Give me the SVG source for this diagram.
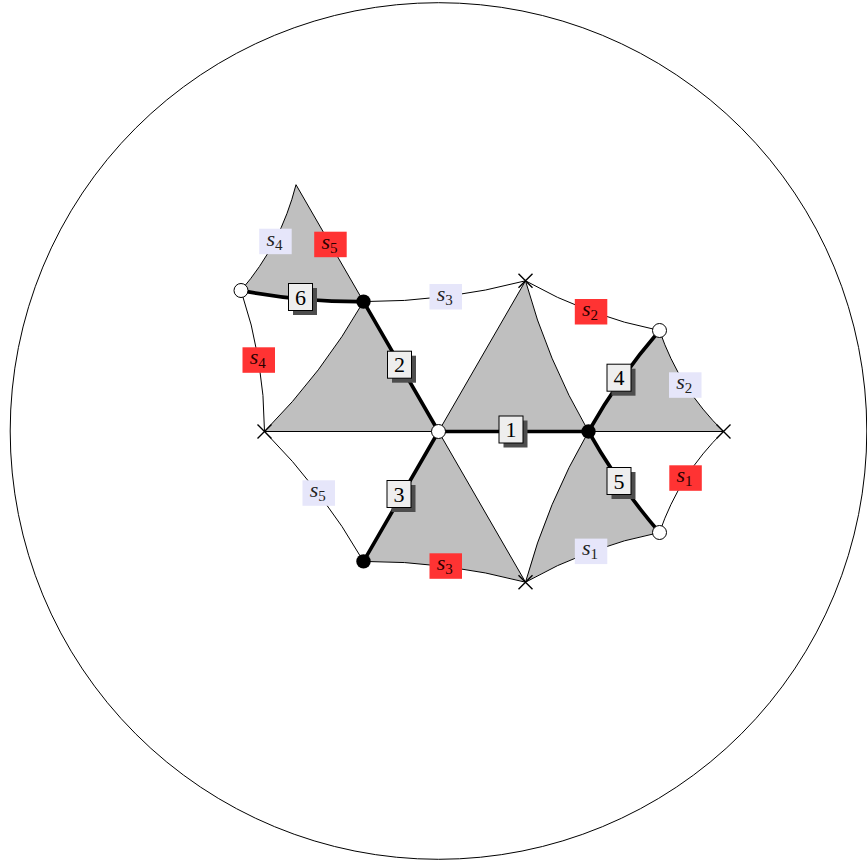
<svg xmlns="http://www.w3.org/2000/svg" width="867" height="864" viewBox="0 0 867 864">
<style>
.face{fill:#bfbfbf;stroke:#000;stroke-width:1}
.thin{fill:none;stroke:#000;stroke-width:1}
.thick{fill:none;stroke:#000;stroke-width:3.6;stroke-linecap:round}
.cross{stroke:#000;stroke-width:1.4;fill:none}
.bn{fill:#000}
.wn{fill:#fff;stroke:#000;stroke-width:1}
.shadow{fill:#4d4d4d}
.box{fill:#eeeeee;stroke:#000;stroke-width:1}
.num{font-family:"Liberation Serif",serif;font-size:22px;text-anchor:middle;fill:#000}
.lav{fill:#e6e6fa}
.red{fill:#ff3333}
.sl{font-family:"Liberation Serif",serif;font-size:22px;font-style:italic;text-anchor:middle}
.sub{font-size:15px;font-style:normal}
</style>
<circle cx="438.5" cy="431" r="428.3" class="thin"/>
<g id="faces">
<path class="face" d="M438.5,431.5 L525.5,280.8 A625,625 0 0 0 588.5,431.5 Z"/>
<path class="face" d="M264.5,431.5 A623,623 0 0 0 363.5,301.6 L438.5,431.5 Z"/>
<path class="face" d="M588.5,431.5 A618,618 0 0 1 659.5,330.5 A258,258 0 0 0 723.5,431.5 Z"/>
<path class="face" d="M588.5,431.5 A618,618 0 0 0 659.5,532.5 A443,443 0 0 0 525.5,582.2 A625,625 0 0 1 588.5,431.5 Z"/>
<path class="face" d="M438.5,431.5 L363.5,561.4 A622,622 0 0 1 525.5,582.2 Z"/>
<path class="face" d="M241,290.5 A259,259 0 0 0 296,184.7 L363.5,301.6 A621,621 0 0 1 241,290.5 Z"/>
</g>
<g id="connectors">
<path class="thin" d="M363.5,301.6 A622,622 0 0 0 525.5,280.8"/>
<path class="thin" d="M525.5,280.8 A443,443 0 0 0 659.5,330.5"/>
<path class="thin" d="M659.5,532.5 A258,258 0 0 1 723.5,431.5"/>
<path class="thin" d="M264.5,431.5 A623,623 0 0 1 363.5,561.4"/>
<path class="thin" d="M241,290.5 A442,442 0 0 1 264.5,431.5"/>
<path class="thin" d="M264.5,431.5 H723.5"/>
<path class="thick" d="M438.5,431.5 H588.5"/>
<path class="thick" d="M438.5,431.5 L363.5,301.6"/>
<path class="thick" d="M438.5,431.5 L363.5,561.4"/>
<path class="thick" d="M588.5,431.5 A618,618 0 0 1 659.5,330.5"/>
<path class="thick" d="M588.5,431.5 A618,618 0 0 0 659.5,532.5"/>
<path class="thick" d="M241,290.5 A621,621 0 0 0 363.5,301.6"/>
</g>
<g id="edge-labels">
<g id="e1"><rect class="shadow" x="503.5" y="420.5" width="24" height="27"/><rect class="box" x="499" y="416" width="24" height="27"/><text class="num" x="511" y="437">1</text></g>
<g id="e2"><rect class="shadow" x="392" y="355.7" width="24" height="27"/><rect class="box" x="387.5" y="351.2" width="24" height="27"/><text class="num" x="399.5" y="372.2">2</text></g>
<g id="e3"><rect class="shadow" x="391.5" y="485" width="24" height="27"/><rect class="box" x="387" y="480.5" width="24" height="27"/><text class="num" x="399" y="501.5">3</text></g>
<g id="e4"><rect class="shadow" x="611.5" y="368.7" width="24" height="27"/><rect class="box" x="607" y="364.2" width="24" height="27"/><text class="num" x="619" y="385.2">4</text></g>
<g id="e5"><rect class="shadow" x="611.5" y="472" width="24" height="27"/><rect class="box" x="607" y="467.5" width="24" height="27"/><text class="num" x="619" y="488.5">5</text></g>
<g id="e6"><rect class="shadow" x="293" y="288" width="24" height="27"/><rect class="box" x="288.5" y="283.5" width="24" height="27"/><text class="num" x="300.5" y="304.5">6</text></g>
</g>
<g id="side-labels">
<g id="l-s4a"><rect class="lav" x="259.2" y="228.7" width="32.5" height="25.5"/><text class="sl" x="274.5" y="245.5" fill="#222">s<tspan class="sub" dy="4">4</tspan></text></g>
<g id="l-s5a"><rect class="red" x="314.2" y="231.7" width="32.5" height="25.5"/><text class="sl" x="329.5" y="248.5" fill="#2a0000">s<tspan class="sub" dy="4">5</tspan></text></g>
<g id="l-s3a"><rect class="lav" x="429.5" y="284" width="32.5" height="25.5"/><text class="sl" x="444.8" y="300.8" fill="#222">s<tspan class="sub" dy="4">3</tspan></text></g>
<g id="l-s2a"><rect class="red" x="574.8" y="299" width="32.5" height="25.5"/><text class="sl" x="590" y="315.8" fill="#2a0000">s<tspan class="sub" dy="4">2</tspan></text></g>
<g id="l-s2b"><rect class="lav" x="669" y="372.3" width="32.5" height="25.5"/><text class="sl" x="684.3" y="389" fill="#222">s<tspan class="sub" dy="4">2</tspan></text></g>
<g id="l-s1a"><rect class="red" x="669.3" y="465.3" width="32.5" height="25.5"/><text class="sl" x="684.5" y="482" fill="#2a0000">s<tspan class="sub" dy="4">1</tspan></text></g>
<g id="l-s1b"><rect class="lav" x="574.8" y="538.6" width="32.5" height="25.5"/><text class="sl" x="590" y="555.3" fill="#222">s<tspan class="sub" dy="4">1</tspan></text></g>
<g id="l-s5b"><rect class="lav" x="302.5" y="480.3" width="32.5" height="25.5"/><text class="sl" x="317.8" y="497" fill="#222">s<tspan class="sub" dy="4">5</tspan></text></g>
<g id="l-s3b"><rect class="red" x="429.5" y="553.3" width="32.5" height="25.5"/><text class="sl" x="444.8" y="570" fill="#2a0000">s<tspan class="sub" dy="4">3</tspan></text></g>
<g id="l-s4b"><rect class="red" x="242.5" y="347.3" width="32.5" height="25.5"/><text class="sl" x="257.8" y="364" fill="#2a0000">s<tspan class="sub" dy="4">4</tspan></text></g>
</g>
<g id="nodes">
<g id="n-O"><circle class="wn" cx="438.5" cy="431.5" r="7"/></g>
<g id="n-b0"><circle class="bn" cx="588.5" cy="431.5" r="7.2"/></g>
<g id="n-b1"><circle class="bn" cx="363.5" cy="301.6" r="7.2"/></g>
<g id="n-b2"><circle class="bn" cx="363.5" cy="561.4" r="7.2"/></g>
<g id="n-w1"><circle class="wn" cx="659.5" cy="330.5" r="7"/></g>
<g id="n-w2"><circle class="wn" cx="659.5" cy="532.5" r="7"/></g>
<g id="n-w3"><circle class="wn" cx="241" cy="290.5" r="7"/></g>
<g id="n-cT"><path class="cross" d="M518.5,273.8 l14,14 M532.5,273.8 l-14,14"/></g>
<g id="n-cB"><path class="cross" d="M518.5,575.2 l14,14 M532.5,575.2 l-14,14"/></g>
<g id="n-cL"><path class="cross" d="M257.5,424.5 l14,14 M271.5,424.5 l-14,14"/></g>
<g id="n-eR"><path class="cross" d="M716.5,424.5 l14,14 M730.5,424.5 l-14,14"/></g>
</g>
</svg>
